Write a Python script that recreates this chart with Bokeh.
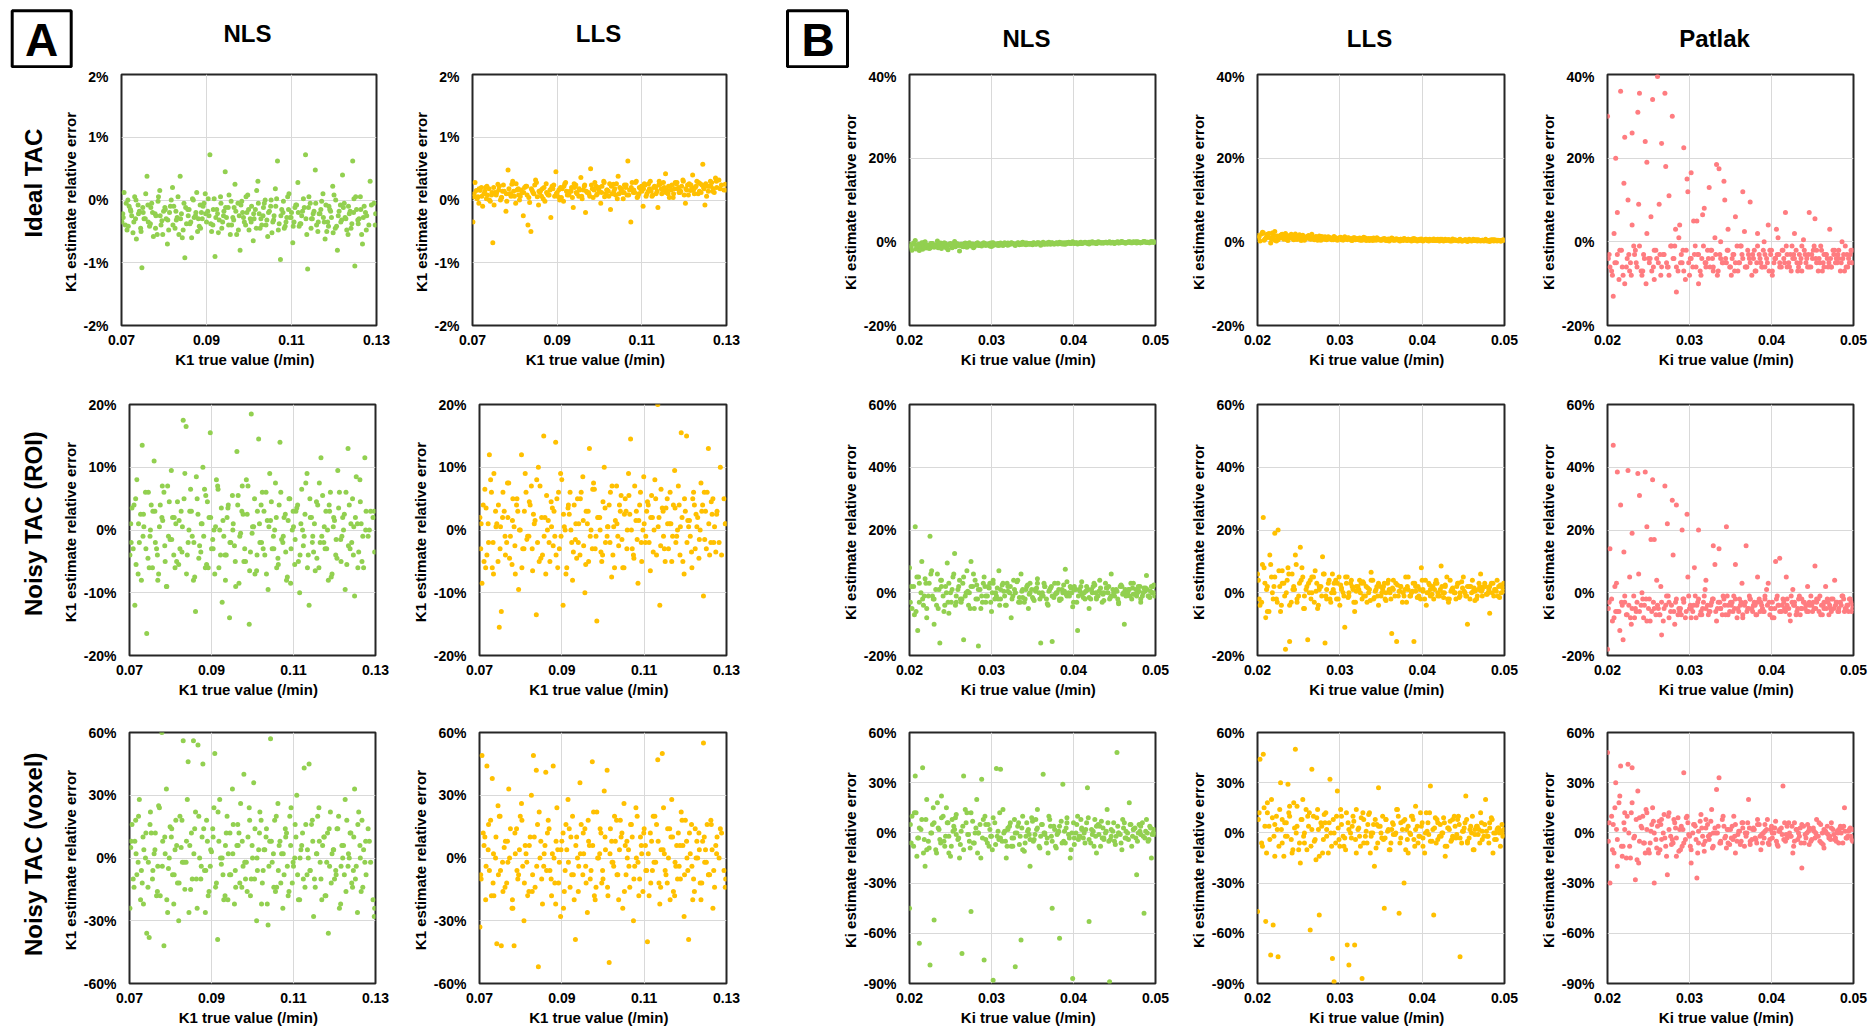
from bokeh.plotting import figure
from bokeh.layouts import row, column
from bokeh.models import FixedTicker, PrintfTickFormatter, Range1d
from bokeh.core.properties import value
from bokeh.embed import file_html
from bokeh.resources import INLINE
import math

# ---------------- data (y values in percent) ----------------
K1_TRUE = [
    0.0701, 0.0706, 0.0713, 0.0718, 0.0724, 0.0731, 0.0735, 0.0742, 0.0748, 0.0753,
    0.0760, 0.0766, 0.0771, 0.0779, 0.0784, 0.0790, 0.0795, 0.0802, 0.0808, 0.0813,
    0.0820, 0.0826, 0.0831, 0.0838, 0.0843, 0.0849, 0.0856, 0.0861, 0.0867, 0.0874,
    0.0879, 0.0885, 0.0890, 0.0897, 0.0903, 0.0908, 0.0915, 0.0920, 0.0926, 0.0933,
    0.0938, 0.0944, 0.0951, 0.0956, 0.0962, 0.0967, 0.0974, 0.0979, 0.0985, 0.0992,
    0.0997, 0.1003, 0.1010, 0.1015, 0.1021, 0.1026, 0.1033, 0.1038, 0.1044, 0.1051,
    0.1056, 0.1062, 0.1067, 0.1074, 0.1080, 0.1085, 0.1091, 0.1097, 0.1103, 0.1108,
    0.1115, 0.1120, 0.1126, 0.1133, 0.1138, 0.1144, 0.1149, 0.1156, 0.1162, 0.1167,
    0.1174, 0.1179, 0.1185, 0.1190, 0.1197, 0.1203, 0.1208, 0.1215, 0.1220, 0.1226,
    0.1233, 0.1238, 0.1244, 0.1249, 0.1256, 0.1262, 0.1267, 0.1274, 0.1285, 0.1297,
    0.0703, 0.0709, 0.0715, 0.0721, 0.0727, 0.0733, 0.0739, 0.0745, 0.0751, 0.0757,
    0.0763, 0.0769, 0.0775, 0.0781, 0.0787, 0.0793, 0.0799, 0.0805, 0.0811, 0.0817,
    0.0823, 0.0829, 0.0835, 0.0841, 0.0847, 0.0853, 0.0859, 0.0865, 0.0871, 0.0877,
    0.0883, 0.0888, 0.0894, 0.0900, 0.0906, 0.0912, 0.0918, 0.0924, 0.0930, 0.0936,
    0.0941, 0.0947, 0.0953, 0.0959, 0.0965, 0.0971, 0.0977, 0.0983, 0.0989, 0.0995,
    0.1000, 0.1006, 0.1012, 0.1018, 0.1024, 0.1030, 0.1036, 0.1042, 0.1048, 0.1054,
    0.1059, 0.1065, 0.1071, 0.1077, 0.1083, 0.1089, 0.1094, 0.1100, 0.1106, 0.1112,
    0.1118, 0.1124, 0.1130, 0.1136, 0.1141, 0.1147, 0.1153, 0.1159, 0.1165, 0.1171,
    0.1177, 0.1183, 0.1188, 0.1194, 0.1200, 0.1206, 0.1212, 0.1218, 0.1224, 0.1230,
    0.1236, 0.1242, 0.1247, 0.1253, 0.1259, 0.1265, 0.1271, 0.1277, 0.1282, 0.1294,
    0.0704, 0.0711, 0.0716, 0.0722, 0.0729, 0.0734, 0.0740, 0.0746, 0.0750, 0.0756,
    0.0762, 0.0768, 0.0773, 0.0780, 0.0786, 0.0791, 0.0797, 0.0803, 0.0809, 0.0815,
    0.0821, 0.0828, 0.0833, 0.0839, 0.0845, 0.0851, 0.0857, 0.0863, 0.0869, 0.0875,
    0.0881, 0.0886, 0.0892, 0.0898, 0.0904, 0.0910, 0.0916, 0.0922, 0.0928, 0.0934,
    0.0940, 0.0945, 0.0952, 0.0958, 0.0964, 0.0969, 0.0975, 0.0981, 0.0987, 0.0993,
    0.0999, 0.1005, 0.1011, 0.1017, 0.1022, 0.1028, 0.1034, 0.1040, 0.1046, 0.1052,
    0.1058, 0.1063, 0.1069, 0.1075, 0.1081, 0.1087, 0.1093, 0.1099, 0.1104, 0.1110,
    0.1116, 0.1122, 0.1128, 0.1134, 0.1140, 0.1146, 0.1151, 0.1157, 0.1163, 0.1169,
    0.1175, 0.1181, 0.1187, 0.1192, 0.1198, 0.1204, 0.1210, 0.1216, 0.1222, 0.1228,
    0.1234, 0.1240, 0.1246, 0.1251, 0.1257, 0.1263, 0.1269, 0.1276, 0.1288, 0.1298]

KI_TRUE = [
    0.0200, 0.0203, 0.0207, 0.0210, 0.0212, 0.0216, 0.0219, 0.0221, 0.0225, 0.0228,
    0.0230, 0.0234, 0.0237, 0.0239, 0.0243, 0.0246, 0.0248, 0.0252, 0.0255, 0.0257,
    0.0261, 0.0264, 0.0266, 0.0270, 0.0273, 0.0275, 0.0279, 0.0282, 0.0284, 0.0288,
    0.0291, 0.0293, 0.0297, 0.0300, 0.0302, 0.0306, 0.0309, 0.0311, 0.0315, 0.0318,
    0.0320, 0.0324, 0.0327, 0.0329, 0.0333, 0.0336, 0.0338, 0.0342, 0.0345, 0.0347,
    0.0351, 0.0354, 0.0356, 0.0360, 0.0363, 0.0365, 0.0369, 0.0372, 0.0374, 0.0378,
    0.0381, 0.0383, 0.0387, 0.0390, 0.0392, 0.0396, 0.0399, 0.0401, 0.0405, 0.0408,
    0.0410, 0.0414, 0.0417, 0.0419, 0.0423, 0.0426, 0.0428, 0.0432, 0.0435, 0.0437,
    0.0441, 0.0444, 0.0446, 0.0450, 0.0453, 0.0455, 0.0459, 0.0462, 0.0464, 0.0468,
    0.0471, 0.0473, 0.0477, 0.0480, 0.0482, 0.0486, 0.0489, 0.0492, 0.0495, 0.0499,
    0.0201, 0.0205, 0.0208, 0.0211, 0.0214, 0.0217, 0.0220, 0.0223, 0.0226, 0.0229,
    0.0232, 0.0235, 0.0238, 0.0241, 0.0244, 0.0247, 0.0250, 0.0253, 0.0256, 0.0259,
    0.0262, 0.0265, 0.0268, 0.0271, 0.0274, 0.0277, 0.0280, 0.0283, 0.0286, 0.0289,
    0.0292, 0.0295, 0.0298, 0.0301, 0.0304, 0.0307, 0.0310, 0.0313, 0.0316, 0.0319,
    0.0322, 0.0325, 0.0328, 0.0331, 0.0334, 0.0337, 0.0340, 0.0343, 0.0346, 0.0349,
    0.0352, 0.0355, 0.0358, 0.0361, 0.0364, 0.0367, 0.0370, 0.0373, 0.0376, 0.0379,
    0.0382, 0.0385, 0.0388, 0.0391, 0.0394, 0.0397, 0.0400, 0.0403, 0.0406, 0.0409,
    0.0412, 0.0415, 0.0418, 0.0421, 0.0424, 0.0427, 0.0430, 0.0433, 0.0436, 0.0439,
    0.0442, 0.0445, 0.0448, 0.0451, 0.0454, 0.0457, 0.0460, 0.0463, 0.0466, 0.0469,
    0.0472, 0.0475, 0.0478, 0.0481, 0.0484, 0.0487, 0.0490, 0.0493, 0.0496, 0.0498,
    0.0202, 0.0206, 0.0209, 0.0212, 0.0215, 0.0218, 0.0221, 0.0224, 0.0227, 0.0230,
    0.0233, 0.0236, 0.0239, 0.0242, 0.0245, 0.0248, 0.0251, 0.0254, 0.0257, 0.0260,
    0.0263, 0.0266, 0.0269, 0.0272, 0.0275, 0.0278, 0.0281, 0.0284, 0.0287, 0.0290,
    0.0293, 0.0296, 0.0299, 0.0302, 0.0305, 0.0308, 0.0311, 0.0314, 0.0317, 0.0320,
    0.0323, 0.0326, 0.0329, 0.0332, 0.0335, 0.0338, 0.0341, 0.0344, 0.0347, 0.0350,
    0.0353, 0.0356, 0.0359, 0.0362, 0.0365, 0.0368, 0.0371, 0.0374, 0.0377, 0.0380,
    0.0383, 0.0386, 0.0389, 0.0392, 0.0395, 0.0398, 0.0401, 0.0404, 0.0407, 0.0410,
    0.0413, 0.0416, 0.0419, 0.0422, 0.0425, 0.0428, 0.0431, 0.0434, 0.0437, 0.0440,
    0.0443, 0.0446, 0.0449, 0.0452, 0.0455, 0.0458, 0.0461, 0.0464, 0.0467, 0.0470,
    0.0473, 0.0476, 0.0479, 0.0482, 0.0485, 0.0488, 0.0491, 0.0494, 0.0497, 0.0499]

# Panel A: K1 estimate relative error (%)
A_IDEAL_NLS = [
    -0.35, 0.12, -0.48, -0.10, -0.25, 0.05, -0.62, -0.18, -1.08, -0.30,
    0.38, -0.42, -0.05, -0.22, -0.55, 0.15, -0.33, -0.12, -0.70, -0.20,
    0.20, -0.45, -0.28, 0.38, -0.60, -0.92, -0.15, -0.38, 0.02, -0.25,
    -0.50, -0.08, -0.30, 0.10, -0.18, 0.72, -0.40, -0.90, -0.22, 0.05,
    -0.35, 0.45, -0.12, -0.55, -0.28, 0.25, -0.05, -0.80, -0.20, -0.40,
    0.08, -0.30, -0.65, -0.15, 0.30, -0.45, -0.25, 0.00, -0.58, -0.10,
    -0.35, 0.18, 0.62, -0.95, -0.20, -0.42, 0.05, -0.28, -0.68, -0.12,
    0.28, -0.38, -0.18, 0.72, -1.10, -0.05, -0.30, 0.48, -0.50, -0.22,
    0.10, -0.62, -0.35, -0.15, 0.22, -0.45, -0.80, -0.08, 0.40, -0.28,
    -0.55, -0.18, 0.62, -1.05, -0.32, 0.05, -0.70, -0.20, 0.30, -0.40,
    -0.22, -0.40, 0.00, -0.15, -0.52, -0.30, -0.08, -0.45, -0.20, 0.10,
    -0.35, -0.12, -0.58, -0.25, 0.05, -0.40, -0.18, -0.30, -0.48, 0.00,
    -0.10, -0.32, -0.55, -0.22, -0.05, -0.38, -0.15, -0.60, -0.28, 0.12,
    -0.42, -0.20, -0.05, -0.35, -0.25, -0.50, 0.02, -0.15, -0.32, -0.45,
    -0.18, -0.28, 0.08, -0.40, -0.12, -0.55, -0.25, -0.02, -0.35, -0.20,
    -0.48, -0.10, -0.30, 0.15, -0.22, -0.40, -0.05, -0.32, -0.18, -0.52,
    -0.25, 0.02, -0.38, -0.15, -0.45, -0.28, 0.10, -0.20, -0.35, -0.08,
    -0.42, -0.25, -0.12, -0.55, 0.05, -0.30, -0.18, -0.40, -0.22, -0.02,
    -0.35, -0.50, -0.10, -0.28, 0.08, -0.42, -0.18, -0.32, -0.05, -0.48,
    -0.22, -0.38, 0.02, -0.15, -0.30, -0.55, -0.10, -0.25, -0.40, -0.05,
    -0.28, -0.05, -0.42, -0.18, -0.35, 0.00, -0.22, -0.50, -0.12, -0.30,
    -0.08, -0.38, -0.20, -0.45, -0.02, -0.25, -0.55, -0.15, -0.32, -0.10,
    -0.40, -0.18, 0.05, -0.30, -0.48, -0.12, -0.25, -0.35, 0.00, -0.20,
    -0.30, -0.45, -0.10, -0.22, 0.02, -0.38, -0.15, -0.28, -0.52, -0.05,
    -0.25, -0.12, -0.40, -0.02, -0.32, -0.18, -0.48, -0.08, -0.28, 0.05,
    -0.15, -0.35, -0.22, -0.45, -0.05, -0.30, -0.12, -0.40, -0.20, 0.00,
    -0.32, -0.10, -0.48, -0.25, -0.02, -0.35, -0.15, -0.28, -0.42, -0.08,
    -0.20, -0.38, 0.02, -0.30, -0.12, -0.45, -0.22, -0.05, -0.35, -0.15,
    -0.28, -0.08, -0.42, -0.18, -0.52, 0.00, -0.25, -0.35, -0.12, -0.30,
    -0.10, -0.45, -0.20, 0.05, -0.38, -0.15, -0.28, -0.48, -0.08, -0.22]
A_IDEAL_LLS = [
    -0.35, 0.28, 0.05, 0.15, -0.10, 0.20, 0.08, -0.02, -0.68, 0.12,
    0.25, 0.00, 0.14, -0.18, 0.48, 0.10, 0.30, -0.05, 0.18, 0.06,
    -0.25, 0.22, -0.40, -0.50, 0.12, 0.32, -0.08, 0.15, 0.02, 0.26,
    0.08, -0.28, 0.18, 0.45, 0.05, 0.20, -0.02, 0.28, 0.10, 0.14,
    -0.12, 0.24, 0.06, 0.36, 0.16, -0.20, 0.12, 0.50, 0.04, 0.22,
    0.18, -0.05, 0.30, 0.10, 0.14, -0.15, 0.25, 0.08, 0.38, 0.16,
    0.02, 0.20, 0.62, -0.35, 0.12, 0.28, 0.06, 0.18, -0.10, 0.24,
    0.14, 0.30, 0.08, 0.20, -0.12, 0.26, 0.16, 0.42, 0.10, 0.22,
    0.04, 0.28, 0.18, 0.12, 0.32, -0.05, 0.24, 0.15, 0.40, 0.20,
    0.10, 0.26, 0.57, -0.08, 0.22, 0.30, 0.14, 0.35, 0.18, 0.25,
    0.05, 0.15, -0.05, 0.20, 0.10, 0.02, 0.18, 0.08, -0.08, 0.12,
    0.22, 0.04, 0.14, -0.02, 0.10, 0.25, 0.06, 0.16, 0.00, 0.12,
    0.20, 0.08, -0.04, 0.15, 0.24, 0.05, 0.12, 0.18, -0.02, 0.10,
    0.16, 0.22, 0.06, 0.12, 0.00, 0.18, 0.26, 0.08, 0.14, 0.04,
    0.20, 0.10, 0.16, 0.02, 0.24, 0.12, 0.06, 0.18, 0.28, 0.10,
    0.14, 0.22, 0.05, 0.16, 0.26, 0.10, 0.18, 0.02, 0.20, 0.12,
    0.24, 0.08, 0.16, 0.28, 0.12, 0.04, 0.20, 0.14, 0.26, 0.10,
    0.18, 0.06, 0.22, 0.14, 0.30, 0.10, 0.20, 0.16, 0.04, 0.24,
    0.18, 0.28, 0.12, 0.22, 0.08, 0.16, 0.26, 0.20, 0.10, 0.30,
    0.14, 0.24, 0.18, 0.06, 0.22, 0.28, 0.12, 0.20, 0.32, 0.16,
    0.10, 0.02, 0.18, 0.06, 0.14, 0.22, 0.00, 0.12, 0.20, 0.08,
    0.16, 0.04, 0.24, 0.10, 0.18, 0.06, 0.14, 0.26, 0.08, 0.16,
    0.12, 0.22, 0.04, 0.18, 0.10, 0.28, 0.14, 0.06, 0.20, 0.12,
    0.08, 0.18, 0.24, 0.10, 0.16, 0.04, 0.22, 0.14, 0.08, 0.20,
    0.26, 0.12, 0.18, 0.06, 0.22, 0.14, 0.10, 0.24, 0.16, 0.08,
    0.20, 0.12, 0.28, 0.16, 0.06, 0.22, 0.14, 0.26, 0.10, 0.18,
    0.12, 0.24, 0.08, 0.20, 0.16, 0.30, 0.10, 0.22, 0.18, 0.06,
    0.26, 0.14, 0.20, 0.10, 0.24, 0.18, 0.28, 0.12, 0.22, 0.16,
    0.10, 0.26, 0.20, 0.14, 0.30, 0.18, 0.08, 0.24, 0.16, 0.22,
    0.28, 0.12, 0.20, 0.26, 0.14, 0.22, 0.18, 0.30, 0.24, 0.16]
A_ROI_NLS = [
    -4, 3.5, -12, 8, -2, 13.5, 0.5, -16.5, -6, 4,
    11, -3, -7, 2, 6, -9, -1, 9.5, -4, 1,
    -5.5, 3, 17.5, 16.5, -2, 6.5, -8, -13, 2.5, -3.5,
    10, -6, 4.5, 15.5, -1.5, -7, 7, 0, -11.5, -4,
    2, -14, 5.5, -2.5, 12.5, -8.5, 3, -5, 8, -15,
    18.5, 0.5, -6.5, 14.5, 4, -3, 6, -9.5, 1.5, -1,
    7.5, -4.5, 14, -2, 2.5, -7.5, 5, 0, -5.5, 3.5,
    -10, 6.5, -1, 9, -12, 2, -3.5, 4.5, -6, 11.5,
    -2, 3, -8, 6, 0.5, -4, 9.5, -1.5, 2, -9.5,
    13, -3, 5, -10.5, 1, 8, -5, 11.5, 0, 3,
    1, -3, 5, -7, 2.5, -1, 6, -4.5, 0, 3,
    -2, -8, 4, 1.5, -5, 7, -1.5, 2, -6, 4.5,
    -3, 0.5, 9, -4, 3, -1, -7.5, 5, -2.5, 1,
    6.5, -5.5, 2, -3, 0, 8, -6, 3.5, -1, -4,
    4, -2, 1, -9, 5.5, -0.5, 2.5, -5, 7, -3.5,
    0.5, -7, 3, -2, 6, -4, 1.5, 9, -3, 0,
    -6, 4, -1.5, 2, -8, 5, -3, 0.5, 3, -5,
    1, -2.5, 7.5, -4, 2, -1, -6.5, 4, -2, 5.5,
    -3, 0, 3, -7, 1.5, -4.5, 6, -1, 2.5, -5.5,
    4, -2, 0.5, 8.5, -3.5, 1, -6, 3, -1, 2,
    -2, 4, -5.5, 1, -8, 2.5, -3, 6, -1, -6,
    3, -4, 0.5, 7, -2.5, -9, 4.5, -1.5, 2, -5,
    1.5, -3.5, 5, -7, 0, 3, -2, 8.5, -4.5, 1,
    -1, 5.5, -6, 2, -3, 0.5, 6.5, -4, 1.5, -8,
    3.5, -2, 0, -5, 4, -1, 7, -3, 2.5, -6.5,
    -0.5, 5, -4, 1, -2, 3, -7, 0.5, 4.5, -3,
    2, -5.5, 6, -1, -3.5, 1.5, -8.5, 3, -1.5, 4,
    -4, 0, 2.5, -6, 5, -2, 1, -4.5, 7.5, -1,
    0.5, -3, 4, -7.5, 2, -1.5, 3.5, -5, 0, 6,
    -2.5, 1, -4, 2, -6, 4.5, -1, 0, 3, -3.5]
A_ROI_LLS = [
    2, -8.5, 6.5, -4, 12, -6, 9, 1, -15.5, -13,
    3, -2, 7.5, -5.5, 0.5, 4, -9.5, 12, -3, 6,
    -1, 7, 2.5, -13.5, 10, -4.5, 15, -7, 1.5, 4.5,
    -2.5, 14, -6, 9, -12, 0, 3.5, 6, -8, -1.5,
    5, -4, 8.5, -10, 1, 13, -3, 6.5, -14.5, 2,
    -5, 10, -1, 4, -7.5, 0.5, 7, -2.5, 5.5, -6,
    3, 9, 14.5, -4, 1.5, -8.5, 6, 0, -2, 4.5,
    -6.5, 2, 8, 20, -12, 3.5, -3, 5, 1, -5,
    9.5, -1, 4, 15.5, -7, 15, 0.5, -3.5, 6, 2.5,
    -4.5, 7.5, -10.5, 3, 13, -2, 5, -3.5, 10, 1,
    -3, 4, -6, 1, 8, -2, 3, -5, 0.5, 6,
    -4, 2, -1, 5, -7, 3, 0, -3, 9, -1,
    4, -6.5, 1.5, -2, 7, -4, 2, 0, -5, 3.5,
    -1, 5, -3, 8, 0.5, -6, 2.5, -2, 4, -4.5,
    1, 6, -2.5, 3, -5, 0, 7.5, -1, 2, -3.5,
    4.5, -2, 0.5, 6, -4, 1.5, -1, 3, -6, 5,
    0, 2.5, -3, 7, -1.5, 4, -5, 1, 3, -2,
    5.5, 0, -4, 2, 6.5, -1, 3.5, -3, 1, 4,
    -2, 7, 0.5, -5, 3, 1.5, -1, 5, -3, 2,
    0, 4, -1.5, 6, -4, 2.5, 0.5, 3, -2, 5,
    1, -5, 3.5, -2, 6, -7, 0.5, 4, -3, 2,
    -1, 7.5, -4.5, 1.5, -2.5, 5, 0, -6, 3, -1.5,
    4.5, -3, 1, 8, -5, 2, -1, 5.5, -2, 0.5,
    3, -4, 6, -1, 2.5, -7, 4, 0, -3.5, 1,
    -2, 5, 1.5, -5.5, 3, -1, 6.5, -3, 2, 0,
    -4, 3.5, 0.5, -2, 7, -6, 1, 4, -1.5, 2.5,
    -3, 5.5, 0, -4.5, 3, 1.5, -2, 8.5, -1, 4,
    2, -3.5, 5, 0.5, -2.5, 3, -5, 1, 6, -1,
    3.5, 0, -4, 2, 5, -2, 1.5, -6, 4, 0.5,
    -1.5, 3, 6, -3, 1, 4.5, -2, 2.5, -4, 1]
A_VOX_NLS = [
    -24, 16, 8, -8, 28, -12, 4, -36, -38, 12,
    2, -18, 25, 60, -42, 33, -5, 10, -22, 18,
    -30, 5, 56, -2, 46, -15, 56, 22, 54, -10,
    45, -26, 8, -4, 14, 50, -39, 28, 0, -18,
    20, -8, 33, -22, 6, 12, -14, 40, -2, 24,
    -10, 36, -30, 4, 18, -6, 10, -32, 57, 2,
    -16, 26, 8, -24, 14, -4, 20, -12, 0, 30,
    -20, 6, 43, -8, 45, 16, -28, 2, 24, -10,
    10, -18, -36, 22, 4, -6, 14, -22, 0, 28,
    -4, 12, -14, 33, -26, 6, 18, -2, 8, -28,
    5, -10, 18, -2, -20, 10, 0, -14, 22, -6,
    12, -4, -18, 8, 2, -26, 15, -8, 4, -12,
    20, -2, -15, 28, 6, -10, 14, -24, 0, 10,
    -6, 18, -16, 3, 24, -12, 8, -3, -20, 12,
    2, -8, 16, -14, 6, 26, -4, -10, 10, -18,
    0, 14, -6, 22, -12, 4, -22, 8, -2, 18,
    -14, 6, 2, -8, 12, -16, 24, -4, 10, -20,
    4, -10, 16, 0, -6, 8, -14, 20, -2, 6,
    -18, 12, -4, 2, -10, 14, -24, 6, -8, 18,
    0, -12, 10, -4, 22, -16, 4, -8, 14, -20,
    8, -14, 2, 20, -6, -22, 12, -2, 16, -10,
    4, -16, 24, -4, 10, -20, 0, 14, -8, 6,
    -12, 18, -2, 8, -26, 12, 2, -10, 20, -4,
    14, -6, -18, 4, 10, -14, 22, 0, -8, 6,
    -20, 12, 2, -6, 16, -12, 8, -2, -16, 18,
    6, -10, 0, 12, -22, 4, 14, -4, 8, -14,
    20, -6, -12, 2, 10, -18, 6, -2, 16, -8,
    0, 12, -14, 4, -6, 18, -10, 2, 8, -20,
    10, -2, 14, -12, 4, -8, 20, -4, 6, -16,
    2, 12, -6, -10, 16, 0, -14, 8, -2, -24]
A_VOX_LLS = [
    -33, 49, 10, 44, -6, 38, -18, -41, 20, -42,
    5, -12, 33, -24, -42, 14, -8, 26, -30, 2,
    -16, 30, 49, 42, -52, 8, -4, 41, 18, -10,
    44, -22, 4, -28, 12, -6, 28, -14, 20, -39,
    0, 36, -8, 14, -26, 6, 46, -18, 22, 2,
    -12, 32, 42, -50, 8, -4, 18, -20, 10, 26,
    -8, 4, 16, -30, 24, -2, 10, -16, 6, -40,
    12, -6, 20, 47, -22, 50, 2, -12, 14, 28,
    -18, 6, -4, 22, -28, 8, -39, 16, -10, 0,
    12, -20, 55, 4, -8, 18, -24, 6, 14, -14,
    -8, 12, -20, 4, 18, -12, 0, 25, -6, -16,
    8, -2, 14, -24, 2, -10, 20, -4, 6, -18,
    10, -8, -14, 16, 0, -22, 6, 12, -6, 2,
    -12, 24, -2, 8, -16, 4, 14, -8, -20, 10,
    -4, 16, 2, -12, 8, -6, 22, -14, 0, 12,
    -10, 4, -18, 14, -2, 8, -8, 18, -24, 6,
    0, -14, 10, -4, 20, -10, 2, 14, -6, -18,
    8, -2, 16, -12, 4, 24, -8, 0, 10, -16,
    -4, 12, -10, 6, 18, -6, 2, -20, 14, 0,
    -12, 8, -2, 16, -8, 4, -14, 10, 0, -6,
    -10, 6, -4, 16, -18, 2, 10, -8, 20, -2,
    -14, 8, 0, -20, 12, -6, 4, 18, -12, -2,
    6, -16, 10, -4, 22, -10, 2, -6, 14, -18,
    0, 8, -12, 4, -24, 16, -2, 10, -8, 6,
    -16, 2, 12, -4, 18, -10, 6, -20, 0, 14,
    -6, 10, -14, 2, -2, 20, -8, 4, 12, -16,
    8, -4, 16, -10, 0, -18, 6, 12, -6, 2,
    -12, 20, -2, 8, -14, 4, -6, 14, -20, 10,
    -2, -10, 6, 18, -8, 0, 12, -4, -16, 8,
    4, -12, 10, -2, -8, 16, -6, 2, 12, -10]

# Panel B: Ki estimate relative error (%)
B_IDEAL_NLS = [
    -0.5, -2.0, 0.3, -1.2, -0.8, -1.8, 0.0, -1.0, -1.5, -0.4,
    -1.3, 0.2, -0.9, -1.6, -0.3, -1.1, -0.6, -1.4, 0.1, -0.8,
    -2.2, -1.0, -0.5, -1.3, -0.2, -0.9, -1.2, -0.4, -0.7, -1.0,
    -0.3, -0.8, -0.5, -1.1, -0.2, -0.6, -0.9, -0.3, -0.7, -0.4,
    -0.8, -0.2, -0.5, -0.9, -0.3, -0.6, -0.1, -0.7, -0.4, -0.5,
    -0.2, -0.6, -0.3, -0.8, -0.1, -0.5, -0.3, -0.6, -0.2, -0.4,
    -0.5, -0.1, -0.3, -0.6, -0.2, -0.4, 0.0, -0.3, -0.5, -0.2,
    -0.4, -0.1, -0.3, -0.5, 0.0, -0.2, -0.4, -0.1, -0.3, -0.2,
    -0.3, 0.0, -0.2, -0.4, -0.1, -0.3, 0.1, -0.2, -0.3, -0.1,
    -0.2, 0.0, -0.3, -0.1, -0.2, 0.1, -0.1, -0.2, 0.0, -0.1,
    -1.0, -0.3, -1.7, -0.6, -1.2, -0.2, -1.5, -0.8, -0.4, -1.1,
    -0.7, -1.4, -0.3, -1.0, -0.6, -1.9, -0.4, -0.9, -1.2, -0.5,
    -0.8, -1.1, -0.3, -0.7, -1.0, -0.5, -0.8, -0.2, -0.9, -0.6,
    -0.4, -0.7, -1.0, -0.3, -0.6, -0.8, -0.4, -0.5, -0.2, -0.7,
    -0.5, -0.3, -0.6, -0.4, -0.7, -0.2, -0.5, -0.3, -0.6, -0.4,
    -0.3, -0.5, -0.2, -0.4, -0.6, -0.3, -0.1, -0.4, -0.5, -0.2,
    -0.4, -0.2, -0.5, -0.3, -0.1, -0.4, -0.3, -0.2, -0.4, -0.1,
    -0.3, -0.2, -0.4, -0.1, -0.3, -0.2, 0.0, -0.3, -0.2, -0.1,
    -0.2, -0.3, -0.1, -0.2, 0.0, -0.2, -0.1, -0.3, -0.1, 0.0,
    -0.2, -0.1, 0.0, -0.2, -0.1, 0.0, -0.1, -0.2, 0.0, -0.1,
    -1.4, -0.6, -1.0, -2.1, -0.2, -1.3, -0.7, -1.6, -0.4, -1.0,
    -0.9, -0.5, -1.2, -0.3, -1.5, -0.8, -0.6, -1.1, -0.4, -0.9,
    -0.6, -1.2, -0.9, -0.4, -0.7, -1.4, -0.5, -0.9, -0.6, -0.3,
    -0.8, -0.5, -0.3, -0.9, -0.6, -0.4, -0.7, -0.9, -0.5, -0.3,
    -0.6, -0.4, -0.7, -0.2, -0.5, -0.6, -0.3, -0.5, -0.4, -0.7,
    -0.4, -0.2, -0.5, -0.3, -0.4, -0.6, -0.2, -0.3, -0.5, -0.3,
    -0.3, -0.5, -0.2, -0.4, -0.3, -0.1, -0.4, -0.2, -0.3, -0.4,
    -0.2, -0.3, -0.1, -0.3, -0.2, -0.4, -0.1, -0.2, -0.3, -0.1,
    -0.1, -0.2, -0.3, -0.1, -0.2, 0.0, -0.1, -0.2, 0.0, -0.2,
    -0.1, 0.0, -0.1, -0.2, 0.0, -0.1, -0.1, 0.0, -0.1, 0.0]
B_IDEAL_LLS = [
    1.5, 0.2, 2.2, 0.8, 1.8, -0.3, 1.2, 2.5, 0.5, 1.6,
    1.0, 2.0, 0.3, 1.4, 0.8, 1.9, 0.6, 1.2, 1.6, 0.4,
    1.3, 0.7, 1.8, 1.0, 0.4, 1.4, 0.9, 1.2, 0.5, 1.0,
    0.8, 1.3, 0.4, 1.0, 0.7, 1.2, 0.5, 0.9, 0.3, 1.0,
    0.6, 0.9, 0.4, 1.1, 0.7, 0.3, 0.8, 0.5, 1.0, 0.6,
    0.4, 0.8, 0.6, 0.2, 0.9, 0.5, 0.7, 0.3, 0.6, 0.8,
    0.4, 0.6, 0.2, 0.8, 0.5, 0.3, 0.7, 0.4, 0.6, 0.2,
    0.5, 0.7, 0.3, 0.6, 0.4, 0.2, 0.6, 0.5, 0.3, 0.7,
    0.4, 0.2, 0.6, 0.3, 0.5, 0.1, 0.4, 0.6, 0.3, 0.5,
    0.2, 0.4, 0.6, 0.3, 0.1, 0.5, 0.3, 0.4, 0.2, 0.5,
    0.9, 1.9, 0.4, 1.3, 2.0, 0.7, 1.5, 0.2, 1.1, 1.7,
    0.6, 1.3, 0.9, 1.8, 0.5, 1.0, 1.4, 0.3, 1.1, 0.8,
    1.5, 0.6, 1.0, 1.3, 0.8, 0.4, 1.1, 0.7, 1.2, 0.9,
    0.5, 1.0, 0.7, 1.1, 0.4, 0.8, 1.0, 0.6, 0.9, 0.5,
    0.8, 0.4, 0.7, 0.9, 0.5, 0.7, 0.3, 0.8, 0.6, 0.4,
    0.7, 0.5, 0.3, 0.6, 0.8, 0.4, 0.6, 0.2, 0.5, 0.7,
    0.3, 0.5, 0.7, 0.4, 0.2, 0.6, 0.4, 0.5, 0.3, 0.6,
    0.4, 0.3, 0.5, 0.2, 0.6, 0.4, 0.3, 0.5, 0.2, 0.4,
    0.3, 0.5, 0.2, 0.4, 0.3, 0.6, 0.2, 0.3, 0.5, 0.4,
    0.3, 0.2, 0.4, 0.3, 0.5, 0.2, 0.4, 0.3, 0.2, 0.4,
    1.2, 2.3, 0.6, 1.7, 1.0, 2.1, 0.4, 1.4, 0.9, 1.8,
    1.1, 0.5, 1.5, 0.9, 1.3, 0.6, 1.7, 1.0, 0.7, 1.3,
    0.9, 1.2, 0.5, 1.1, 0.8, 1.3, 0.6, 1.0, 0.8, 0.5,
    1.1, 0.6, 0.9, 0.5, 1.0, 0.6, 0.8, 0.4, 0.9, 0.7,
    0.5, 0.8, 0.6, 0.3, 0.8, 0.6, 0.9, 0.4, 0.7, 0.5,
    0.6, 0.3, 0.7, 0.5, 0.4, 0.7, 0.5, 0.6, 0.3, 0.5,
    0.6, 0.4, 0.3, 0.6, 0.5, 0.4, 0.2, 0.6, 0.4, 0.5,
    0.3, 0.5, 0.4, 0.6, 0.3, 0.4, 0.5, 0.2, 0.4, 0.5,
    0.3, 0.4, 0.2, 0.5, 0.3, 0.4, 0.3, 0.5, 0.2, 0.3,
    0.4, 0.3, 0.2, 0.4, 0.3, 0.5, 0.2, 0.3, 0.4, 0.3]
B_IDEAL_PAT = [
    30, -6, -13, 20, -3, 36, -8, 25, 10, -5,
    26, -2, 31, 35.5, -7, 24, 19, -4, 34, -9,
    39.5, -3, 23.5, 35.5, -6, 11, 30, -1, -12, 4,
    -5, 22.5, 15, -8, 16.5, -3, 5, -10, -4, 8,
    -6, 13, -2, -7, 18.5, 17.5, -4, 14.5, -5, 3,
    -8, -3, 6, -5, -1, 12, -6, -3, 9.5, -4,
    -7, 2, -5, -2, -6, 4, -3, -8, -4, 1,
    -5, -2, 7, -6, -3, -4, 2, -7, -5, -1,
    -3, -6, 7, -4, 5.5, -2, -5, -7, -3, -4,
    3, -6, -2, -5, -4, 0, -7, -3, -5, -2,
    -4, -7, 2, -5, -9, -2, 14, -6, -3, -8,
    -1, -5, 9, -7, -3, -10, -4, 6, -6, -2,
    -5, -8, -3, 18, -6, -1, -4, 3, -7, -5,
    -2, -9, 12, -4, -6, -1, -3, -7, 6.5, -5,
    -2, -6, -4, 1, -8, -3, -5, 10, -2, -6,
    -4, -7, -1, -5, -3, 2.5, -6, -4, -8, -2,
    -5, -3, -6, 0, -4, -7, -2, -5, 3, -3,
    -6, -4, -1, -5, -7, -3, -2, -6, -4, 0.5,
    -5, -3, -6, -2, -4, -7, -1, -5, -3, -6,
    -4, -2, -5, -3, -7, -4, -1, -6, -3, -5,
    -3, -8, -5, 7, -2, -6, -10, -4, -7, 4,
    -3, -6, -1, -8, -4, 2, -5, -7, -2, -4,
    9, -6, -3, -5, -8, -1, -4, -6, 1, -3,
    -7, -2, -5, -4, 5, -6, -3, -8, -1, -5,
    -4, -2, -6, -3, -7, 0, -5, -4, -2, -6,
    -3, -5, -7, -1, -4, -6, -2, -5, -3, -7,
    -1, -4, -6, -3, -5, -2, -7, -4, -3, -6,
    -2, -5, -3, -6, -1, -4, -5, -3, -7, -2,
    -4, -6, -3, -1, -5, -4, -2, -6, -3, -5,
    -6, -3, -4, -2, -5, -3, -6, -4, -2, -5]
B_ROI_NLS = [
    8, -5, 21, -12, 3, -2, 4.5, -8, 18, -1,
    -10, 6, -16, 2, -4, 9.5, -6.5, 1, 12.5, -3,
    4, -2, -15, 7, 0, 10, -5, 2.5, -17, -1,
    5, -3, 1.5, -6, 3, -1, 7, -2, 0.5, -4,
    2, -8, 4, 0, -3, 6, -1.5, 1, -5, 3,
    -2, 0.5, 4.5, -16, -1, 2, -4, 1.5, -15.5, -0.5,
    3, -2.5, 0, 7.5, -1, 2, -4.5, 1, -12, 0.5,
    3.5, -2, 1, -5, 0, 2.5, -1.5, 4, -3, 0,
    1.5, -2, 6, -1, 0.5, -3.5, 2, -10, 0, 1,
    -2, 3, -1, 0.5, -3, 1.5, 5.5, -1, 2, 0,
    -3, 2, -6, 5, 0, -4, 3, -1, 6, -2,
    1, -5, 4, -1, 2, -3, 0, 5, -4, 1,
    -2, 3, -1, 0.5, -5, 2, 4, -2, 1, -3,
    2, -1, 3, 0, -2, 1.5, -4, 2.5, -1, 3,
    0, -2, 1, 3.5, -1.5, 0.5, -3, 2, -0.5, 1,
    -2.5, 1.5, 0, -1, 3, -2, 0.5, 2, -1.5, 0,
    1, -2, 2.5, -0.5, 0, 1.5, -3, 1, -1, 2,
    -1.5, 0.5, 1, -2, 2, 0, -1, 1.5, -0.5, 3,
    0, -1.5, 1, 0.5, -2, 2, -0.5, 1, 0, -1,
    1.5, -0.5, 0, 2, -1, 0.5, 1, -1.5, 0, 2.5,
    2, -7, 5, -3, 10, -1, -5, 3, 7, -2,
    -4, 1, 4, -6, 0, 3, -3, 6, -1, 2,
    -3, 5, 0, -4, 2, 6, -2, 1, -5, 3,
    -1, 2, -3, 4, 0, -2, 1, 3, -4, 0.5,
    2, -1, 0, 4, -3, 1, -2, 2.5, 0, -1.5,
    1, 3, -2, 0, 2, -3.5, 1, -1, 3, 0,
    -2, 1, 0.5, 3.5, -1, 0, 2, -3, 1, -0.5,
    0, 2, -1.5, 1, 3, -2, 0.5, 0, -2.5, 1.5,
    2, -1, 0, 1, -3, 2.5, 0, -1, 1, 3,
    -0.5, 1, 2, -2, 0, 1.5, -1, 0.5, 2, -1]
B_ROI_LLS = [
    6, -4, 24, -8, 2, 9, -2, 19, 20, -6,
    3, -18, 8, -15.5, 1, 12, -3, 14.5, 5, -1,
    -15, 4, 0, 7, -5, 2, 11.5, -16, 1, -2,
    6, 0, 3, -4, 1.5, -11, 5, -1, 2, -6,
    0.5, 4, -2, 3, -3, 1, 6.5, -1.5, 2, -4,
    0, 3, -2.5, 1, -13, 4, -15.5, 0.5, 2, -1,
    -3, 5, 0, -15.5, 2, -1, 8, 0.5, -4, 3,
    1, -2, 4, 0, 8.5, -1.5, 2, -3, 0.5, 1.5,
    -2, 3, 0, 5, -1, -10, 2, 0.5, -2.5, 1,
    6, -1, 2, 0, -6.5, 3, 1, -1, 2.5, 3,
    4, -3, 8, 1, -6, 5, 2, -2, 7, -4,
    3, 0, 6, -3, 2, 9, -1, 4, -5, 1,
    3, -2, 5, 0.5, -4, 2, 6, -1, 3, -3,
    1, 4, -2, 2.5, 0, 5, -1.5, 3, 1, -3,
    2, 0, 3.5, -1, 1.5, -2.5, 4, 0.5, -1, 2,
    1, -2, 3, 0, 1.5, -1, 2.5, 0.5, -3, 1,
    2, -1, 0.5, 3, -1.5, 1, 4, -2, 0, 2.5,
    -0.5, 1, 3, -1, 2, 0, 5, -2, 1, 0,
    2, -1.5, 3.5, 0.5, -1, 2, 0, 1.5, -2, 3,
    0.5, 2, -0.5, 1, 3, -1, 0.5, 2, 0, 1.5,
    -2, 9, 3, -6, 12, 0, 5, -3, 2, 7,
    -1, 4, -4, 6, 1, -2, 3, 8, -5, 2,
    0, 5, -3, 3, 1, -1, 6, -2, 4, 0,
    3, -2, 5, 1, -1, 3, 0, 4, -3, 2,
    1, 3, -1, 2, 0, 4, -2, 1, 3, -1,
    2, 0, 4, -2, 1, 3, -1, 2, 0, 5,
    1, -1, 3, 0.5, 2, -2, 1, 4, 0, -1,
    2, 3, -1, 1, 0, 2.5, -2, 4, 1, 0,
    3, -1, 1.5, 0, 2, -2, 4, 0.5, -1, 2,
    1, 3, -0.5, 2, 0, 1, 4, -1.5, 2, 0.5]
B_ROI_PAT = [
    -18, 14, 47, -6, 38.5, 28, -15, -3, 39, -8,
    19, -5, 38, 31, -2, 38.5, 21, -9, 36, 17,
    -4, -7, -13.5, 34, 22, -3, 29.5, -10, 28, -6,
    20, -2, 25, -5, -8, 8, -4, 20, -7, -1,
    4, -6, -3, 15, -9, 14, -5, -2, 21, -7,
    -4, -1, 9, -6, -3, -8, 15, -5, -2, -4,
    -7, 5, -3, -6, -1, 3, -5, -8, 10, -4,
    11, -2, -6, -4, -9, 1, -3, -5, -7, -2,
    -5, 2, -4, -6, 8.5, -3, -1, -7, -5, -2,
    -4, -6, 4, -3, -5, -1, -6, -4, -2, -5,
    -5, -2, -8, 3, -6, -3, 13, -7, -4, -10,
    -1, -6, 6, -4, -8, -2, -5, 17, -3, -7,
    -5, 2, -9, -4, -1, -6, 12, -3, -7, -5,
    -2, -8, 5, -4, -6, -1, -3, -7, -5, 1,
    -4, -6, -2, 9, -5, -3, -7, -4, -1, -6,
    -3, -5, -8, -2, 3, -4, -6, -1, -5, -3,
    -7, -2, -4, -6, 1, -3, -5, -8, -2, -4,
    -6, -3, 5, -5, -1, -4, -7, -2, -5, -3,
    -4, -6, -1, -3, -5, -2, -7, -4, 2, -3,
    -5, -2, -4, -6, -3, -1, -5, -4, -2, -6,
    -3, -9, 2, -6, -12, -4, -1, -7, 5, -5,
    -8, -3, -6, 0, -4, -9, -2, -6, -5, 4,
    -7, -3, -5, -1, -8, -4, -6, -2, -5, -7,
    -3, -6, -1, -5, -4, -8, -2, -6, -3, -5,
    -7, -4, -2, -6, -3, -5, -1, -7, -4, -3,
    -6, -2, -5, -4, -7, -3, -5, -2, -6, -4,
    -3, -6, -5, -2, -4, -7, -3, -5, -1, -6,
    -4, -5, -2, -7, -3, -4, -6, -1, -5, -3,
    -6, -3, -4, -5, -2, -6, -4, -3, -5, -7,
    -2, -5, -3, -6, -4, -2, -5, -6, -3, -4]
B_VOX_NLS = [
    -45, 10, 34, -3, -66, 39, -20, -10, -79, 5,
    -52, 18, -4, 22, -8, 6, -12, 8, 2, -1,
    -15, -72, 34, 12, -5, -47, -6, 20, 0, 32,
    -76, 5, -8, -2, -88, 38.5, -4, 38, 0, -15,
    3, -8, -3, -80, 6, -64, -10, -2, 2, -20,
    -5, 8, 14, -2, 35, -1, -12, 4, -45, -8,
    0, -63, 29, -6, 6, -15, -87, -3, 10, -2,
    2, -6, 27, -53, -1, 8, -12, 4, -3, -4,
    14, -89, -2, -5, 48, 0, -10, 6, -3, 18,
    -8, 2, -25, 5, -1, -48, 8, -4, -15, 0,
    5, -8, 12, -3, 2, -12, 8, -5, 0, 15,
    -10, 3, -6, 10, -2, 6, -14, 1, 9, -4,
    -7, 4, 14, -1, -9, 7, 0, -12, 5, -3,
    10, -6, 2, -10, 6, -2, 12, -5, 1, -8,
    4, -3, 8, 0, -7, 3, -11, 6, -1, 9,
    -4, 2, -8, 5, 0, -6, 10, -2, 4, -9,
    1, 7, -5, 3, -1, -10, 6, 0, -4, 8,
    -3, 2, 9, -6, 1, -2, 5, -8, 3, 0,
    6, -4, 1, -7, 4, -1, 8, -3, 0, 5,
    -2, 3, -5, 1, 6, -3, 0, 4, -1, 2,
    -6, 12, -14, 3, 8, -4, 20, -9, 0, 6,
    -12, 2, 9, -5, 15, -2, -8, 4, 11, -3,
    1, -10, 6, -1, 12, -6, 3, 0, -15, 8,
    -4, 5, -2, 9, -7, 1, -3, 14, -5, 2,
    6, -8, 0, 4, -2, 10, -6, 1, -4, 7,
    -1, 3, -9, 5, 0, -3, 8, -5, 2, -1,
    4, -6, 1, 9, -3, 0, -7, 5, -2, 3,
    0, 6, -4, 2, -8, 4, -1, 7, -3, 1,
    -5, 2, 6, -2, 0, -6, 3, 1, -4, 5,
    2, -3, 0, 4, -2, 1, -5, 3, 0, -1]
B_VOX_LLS = [
    -47, 44, 47, -53, 12, -73, -55, 5, -74, 30,
    8, -2, 29, 16, -10, 50, 4, -18, 20, -6,
    10, -58, 38, -4, 14, -49, -12, 6, 2, 32,
    -75, -89, 25, -8, 10, -3, -67, -79, 4, -67,
    14, -2, -87, 8, -6, 12, 0, -20, 5, 27,
    -3, -45, 8, -10, 2, -1, 14, -48, 6, -30,
    2, -12, 10, -4, 16, -2, 4, -8, 12, -1,
    28, -49, -6, 6, -2, 9, -14, 3, -5, 8,
    -3, 10, -74, 1, 22, -6, 4, -10, 2, -1,
    12, -4, 20, -2, 6, -12, 0, 3, -8, 2,
    8, -6, 15, -12, 4, 20, -2, 10, -8, 2,
    -14, 6, 12, -4, 18, 0, -10, 8, -2, 14,
    4, -8, 10, -16, 2, 6, -4, 12, -12, 0,
    8, -6, 3, 14, -2, -10, 6, 0, 10, -4,
    2, -8, 12, -2, 5, -12, 0, 8, -6, 4,
    10, -3, 1, -10, 6, -1, 14, -6, 2, 8,
    -4, 0, 10, -8, 4, -2, 6, -12, 1, 12,
    -5, 3, 8, -2, 0, 6, -8, 2, -4, 10,
    -1, 5, -6, 3, 8, -3, 0, -10, 4, 2,
    6, -2, 1, -6, 9, 0, -4, 3, 1, -2,
    12, -8, 4, 18, -4, 9, -14, 2, 14, -6,
    6, -2, 10, -12, 3, 16, -6, 8, 0, -10,
    12, 2, -5, 9, -14, 4, 11, -2, 6, -8,
    0, 10, -4, 5, -8, 12, 2, -3, 7, -12,
    3, 9, -6, 1, 11, -2, 5, -9, 4, 0,
    -4, 8, 2, -6, 5, 0, 10, -3, 7, -10,
    4, -1, 8, 2, -6, 12, -3, 0, 6, -5,
    2, 9, -4, 5, 0, -8, 3, 7, -2, 4,
    8, -3, 1, 6, -5, 2, 10, -1, 4, -6,
    1, 5, -2, 3, 8, -4, 2, 0, 5, -1]
B_VOX_PAT = [
    48, -30, 5, 30, -20, 40, -8, 12, 41, -15,
    39, -28, 25, -5, 10, -12, 2, -6, 15, -30,
    4, -10, 8, -3, -25, 12, -4, 6, -14, 2,
    -8, 36, 10, -2, -18, 5, -27, -6, 3, -11,
    8, -4, 14, 0, 26, 33, -6, 4, -9, 2,
    -3, 10, -12, 1, -5, 6, -2, 20, -7, 3,
    -4, 8, -10, 0, 5, -6, 2, -3, 7, -8,
    1, 28, -5, 4, -2, -12, 6, -4, 3, -21,
    -1, 5, -7, 2, -3, 8, -5, 0, -9, 4,
    -2, 6, -4, 1, -6, 3, 15, -3, 2, -5,
    -5, 10, -12, 2, 18, -8, 6, -15, 0, 12,
    -3, 8, -18, 4, -6, 14, -10, 1, 7, -4,
    -12, 5, 0, -8, 10, -2, -6, 3, 9, -10,
    2, -4, 6, -8, 0, 4, -12, 7, -2, -5,
    5, -1, -9, 3, 0, -6, 8, -3, 2, -7,
    4, -2, -5, 1, 6, -8, 0, 3, -4, 2,
    -6, 5, -1, -3, 2, -7, 4, 0, -5, 1,
    3, -4, -1, 6, -2, -8, 2, 0, -6, 4,
    -3, 1, -5, 3, 0, -2, 5, -7, 1, -1,
    -4, 2, -3, 0, 4, -6, 1, -2, 3, -4,
    6, -10, 15, -4, 22, -14, 2, 10, -8, 18,
    -2, -16, 9, 3, -6, 12, -12, 5, 0, -9,
    7, -4, 11, -14, 2, -7, 8, -3, -11, 4,
    -6, 9, -1, -10, 5, -4, 1, 11, -7, 3,
    -2, 7, -8, 0, 4, -5, 10, -2, -6, 2,
    -4, 5, -1, -7, 3, 0, 6, -5, 2, -3,
    5, -2, -6, 1, 8, -4, 0, 3, -7, 2,
    -1, 6, -3, 0, 4, -5, 2, -2, 5, -6,
    0, 3, -4, 1, -2, 6, -6, 2, 0, -3,
    3, -1, -5, 2, 0, 4, -3, 1, -2, 2]

COLUMN_TITLES_A = ["NLS", "LLS"]
COLUMN_TITLES_B = ["NLS", "LLS", "Patlak"]
ROW_TITLES = ["Ideal TAC", "Noisy TAC (ROI)", "Noisy TAC (voxel)"]
K1_XTICKS = [0.07, 0.09, 0.11, 0.13]
KI_XTICKS = [0.02, 0.03, 0.04, 0.05]
A_YTICKS = [[-2, -1, 0, 1, 2], [-20, -10, 0, 10, 20], [-60, -30, 0, 30, 60]]
B_YTICKS = [[-20, 0, 20, 40], [-20, 0, 20, 40, 60], [-90, -60, -30, 0, 30, 60]]
K1_XLABEL = "K1  true value  (/min)"
K1_YLABEL = "K1  estimate relative error"
KI_XLABEL = "Ki  true value  (/min)"
KI_YLABEL = "Ki  estimate relative error"

GREEN, YELLOW, PINK = "#92D050", "#FFC000", "#FF7C80"
FONT = "Liberation Sans"

# ---------------- layout geometry (page has no margin) ----------------
HEADER_H = 68
ROW_H = [328, 328, 305]
ROW_TOP = [68, 396, 724]
TOP = [6, 8, 8]
BOTTOM = [71, 69, 46]
SEG_W = [58, 342, 360, 425, 350, 335]
ML = [[63, 72, 149, 72, 72], [71, 79, 149, 72, 72], [71, 79, 149, 72, 72]]
MR = [[24, 34, 30, 31, 17], [25, 34, 30, 31, 17], [25, 34, 30, 31, 17]]


def panel(x, y, color, xticks, yticks, xlabel, ylabel, w, h, ml, mr, mt, mb):
    p = figure(width=w, height=h,
               x_range=Range1d(xticks[0], xticks[-1]),
               y_range=Range1d(yticks[0], yticks[-1]),
               output_backend="svg", toolbar_location=None,
               min_border_left=ml, min_border_right=mr,
               min_border_top=mt, min_border_bottom=mb)
    p.scatter(x, y, size=5, fill_color=color, line_color=None)
    p.xaxis.ticker = FixedTicker(ticks=xticks)
    p.yaxis.ticker = FixedTicker(ticks=yticks)
    p.xgrid.ticker = FixedTicker(ticks=xticks)
    p.ygrid.ticker = FixedTicker(ticks=yticks)
    p.xaxis.formatter = PrintfTickFormatter(format="%.2f")
    p.yaxis.formatter = PrintfTickFormatter(format="%d%%")
    p.xaxis.axis_label = xlabel
    p.yaxis.axis_label = ylabel
    for ax in (p.xaxis[0], p.yaxis[0]):
        ax.axis_line_color = None
        ax.major_tick_line_color = None
        ax.minor_tick_line_color = None
        ax.major_tick_out = 0
        ax.major_tick_in = 0
        ax.minor_tick_out = 0
        ax.minor_tick_in = 0
        ax.major_label_text_font = FONT
        ax.major_label_text_font_style = "bold"
        ax.major_label_text_font_size = "14px"
        ax.major_label_text_color = "#000000"
        ax.axis_label_text_font = FONT
        ax.axis_label_text_font_style = "bold"
        ax.axis_label_text_font_size = "15px"
        ax.axis_label_text_color = "#000000"
    p.xaxis.major_label_standoff = 9
    p.xaxis.axis_label_standoff = 3
    p.yaxis.major_label_standoff = 13
    p.yaxis.axis_label_standoff = 2
    p.grid.grid_line_color = "#D9D9D9"
    p.grid.grid_line_width = 1
    p.outline_line_color = "#262626"
    p.outline_line_width = 2
    p.background_fill_color = "white"
    p.border_fill_color = "white"
    return p


def blank(w, h, x0, x1, y_top, y_bot):
    p = figure(width=w, height=h, x_range=Range1d(x0, x1),
               y_range=Range1d(y_bot, y_top),
               x_axis_type=None, y_axis_type=None,
               output_backend="svg", toolbar_location=None, min_border=0)
    p.grid.visible = False
    p.outline_line_color = None
    p.border_fill_color = "white"
    p.background_fill_color = "white"
    return p


# header with panel letters and column titles (coordinates = page pixels)
header = blank(1870, HEADER_H, 0, 1870, 0, HEADER_H)
header.quad(left=[11.7, 787], right=[70.7, 847], top=[10.2, 10.2], bottom=[66.3, 66.3],
            fill_color=None, line_color="black", line_width=3)
header.text(x=[41, 817.7], y=[39, 39], text=["A", "B"],
            text_font=value(FONT), text_font_style="bold", text_font_size="46px",
            text_align="center", text_baseline="middle", text_color="black")
header.text(x=[247, 598], y=[33, 33], text=COLUMN_TITLES_A,
            text_font=value(FONT), text_font_style="bold", text_font_size="24px",
            text_align="center", text_baseline="middle", text_color="black")
header.text(x=[1026, 1369, 1714], y=[38, 38, 38], text=COLUMN_TITLES_B,
            text_font=value(FONT), text_font_style="bold", text_font_size="24px",
            text_align="center", text_baseline="middle", text_color="black")

A_DATA = [(A_IDEAL_NLS, A_IDEAL_LLS), (A_ROI_NLS, A_ROI_LLS), (A_VOX_NLS, A_VOX_LLS)]
B_DATA = [(B_IDEAL_NLS, B_IDEAL_LLS, B_IDEAL_PAT),
          (B_ROI_NLS, B_ROI_LLS, B_ROI_PAT),
          (B_VOX_NLS, B_VOX_LLS, B_VOX_PAT)]
ROW_LABEL_Y = [210, 551.7, 872]

rows = [header]
for r in range(3):
    h = ROW_H[r]
    top = ROW_TOP[r]
    rl = blank(SEG_W[0], h, 0, SEG_W[0], top, top + h)
    rl.text(x=[33], y=[ROW_LABEL_Y[r]], text=[ROW_TITLES[r]], angle=math.pi / 2,
            text_font=value(FONT), text_font_style="bold", text_font_size="24px",
            text_align="center", text_baseline="middle", text_color="black")
    figs = [rl]
    a_cols = [GREEN, YELLOW]
    for c in range(2):
        figs.append(panel(K1_TRUE, A_DATA[r][c], a_cols[c], K1_XTICKS, A_YTICKS[r],
                          K1_XLABEL, K1_YLABEL, SEG_W[1 + c], h, ML[r][c], MR[r][c],
                          TOP[r], BOTTOM[r]))
    b_cols = [GREEN, YELLOW, PINK]
    for c in range(3):
        figs.append(panel(KI_TRUE, B_DATA[r][c], b_cols[c], KI_XTICKS, B_YTICKS[r],
                          KI_XLABEL, KI_YLABEL, SEG_W[3 + c], h, ML[r][2 + c], MR[r][2 + c],
                          TOP[r], BOTTOM[r]))
    rows.append(row(*figs, spacing=0))

layout = column(*rows, spacing=0)
open("out.html", "w").write(file_html(layout, INLINE))
